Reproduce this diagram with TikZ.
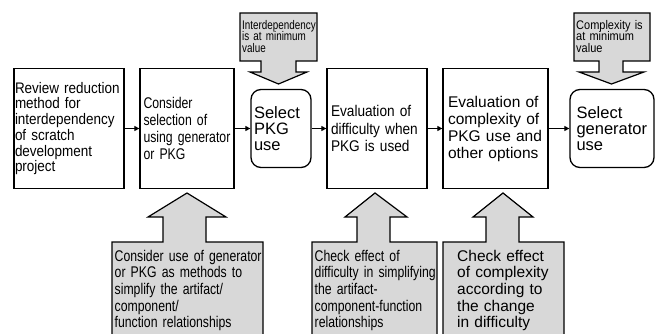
\documentclass[tikz,border=0pt]{standalone}
\usepackage{fontspec}
\setmainfont{Liberation Sans}
\newfontfamily\plainsans{Liberation Sans}
\newfontfamily\narrowsans[FakeStretch=0.88]{Liberation Sans}
\newfontfamily\condsans[FakeStretch=0.79]{Liberation Sans}
\usetikzlibrary{arrows.meta}
\definecolor{notegray}{RGB}{216,216,216}
\hyphenpenalty=10000
\exhyphenpenalty=10000

\begin{document}
\begin{tikzpicture}[x=1pt,y=-1pt,
  stepbox/.style={draw, line width=1.3pt, inner ysep=0pt, align=left, minimum height=120pt},
  pickbox/.style={draw, line width=1.3pt, rounded corners=10pt, inner ysep=0pt, align=left, minimum height=78pt},
  flow/.style={-{Triangle[length=5pt,width=5pt]}, line width=1.1pt},
  note/.style={fill=notegray, draw, line width=1.2pt, line join=miter},
  notetext/.style={inner sep=0pt, anchor=base west, align=left},
]
\clip (0,0) rectangle (656,334);

% process steps
\node[stepbox, inner xsep=1pt, text width=108pt,
      font=\narrowsans\fontsize{15.3}{15.7}\selectfont] (b1) at (69,128.5)
  {Review reduction\\method for\\interdependency\\of scratch\\development\\project};
\node[stepbox, inner xsep=3.5pt, text width=87pt,
      font=\condsans\fontsize{15.5}{16.7}\selectfont] (b2) at (187,128.5)
  {Consider\\selection of\\using generator\\or PKG};
\node[pickbox, inner xsep=3pt, text width=54pt,
      font=\plainsans\fontsize{16.5}{16}\selectfont] (b3) at (281,128.5)
  {Select\\PKG\\use};
\node[stepbox, inner xsep=4pt, text width=92pt,
      font=\narrowsans\fontsize{15.5}{17.5}\selectfont] (b4) at (377,128.5)
  {Evaluation of\\difficulty when\\PKG is used};
\node[stepbox, inner xsep=5pt, text width=95pt,
      font=\plainsans\fontsize{15.5}{17}\selectfont] (b5) at (495.5,128.5)
  {Evaluation of\\complexity of\\PKG use and\\other options};
\node[pickbox, inner xsep=6.5pt, text width=71pt,
      font=\plainsans\fontsize{16.5}{16}\selectfont] (b6) at (612,128.5)
  {Select\\generator\\use};

% flow between steps
\draw[flow] (b1) -- (b2);
\draw[flow] (b2) -- (b3);
\draw[flow] (b3) -- (b4);
\draw[flow] (b4) -- (b5);
\draw[flow] (b5) -- (b6);

% conditions above the selections
\draw[note] (240,13) -- (317,13) -- (317,61) -- (296,61) -- (296,72) -- (307,72)
  -- (278.5,84) -- (250,72) -- (261,72) -- (261,61) -- (240,61) -- cycle;
\draw[note] (574,13) -- (650,13) -- (650,61) -- (623,61) -- (623,72) -- (644,72)
  -- (611.5,84) -- (579,72) -- (599,72) -- (599,61) -- (574,61) -- cycle;
\node[notetext, text width=74pt, font=\condsans\fontsize{12.5}{11.7}\selectfont] (t1) at (242,29.3)
  {Interdependency\\is at minimum\\value};
\node[notetext, text width=73pt, font=\narrowsans\fontsize{12.5}{11.7}\selectfont] (t2) at (576,29.3)
  {Complexity is\\at minimum\\value};

% supporting notes below the steps
\draw[note] (112,345) -- (112,242) -- (163,242) -- (163,217) -- (148,217) -- (187,193)
  -- (226,217) -- (206,217) -- (206,242) -- (263,242) -- (263,345);
\draw[note] (312,345) -- (312,242) -- (357,242) -- (357,217) -- (345,217) -- (375,193)
  -- (407,217) -- (390,217) -- (390,242) -- (437,242) -- (437,345);
\draw[note] (443,345) -- (443,242) -- (486,242) -- (486,217) -- (473,217) -- (503,193)
  -- (533,217) -- (519,217) -- (519,242) -- (564,242) -- (564,345);
\node[notetext, text width=150pt, font=\condsans\fontsize{15.5}{16.7}\selectfont] (n1) at (114.5,261)
  {Consider use of generator\\or PKG as methods to\\simplify the artifact/\\component/\\function relationships};
\node[notetext, text width=122pt, font=\condsans\fontsize{15.5}{16.7}\selectfont] (n2) at (314.5,261)
  {Check effect of\\difficulty in simplifying\\the artifact-\\component-function\\relationships};
\node[notetext, text width=105pt, font=\plainsans\fontsize{15.5}{16.7}\selectfont] (n3) at (457,261)
  {Check effect\\of complexity\\according to\\the change\\in difficulty};
\end{tikzpicture}
\end{document}
